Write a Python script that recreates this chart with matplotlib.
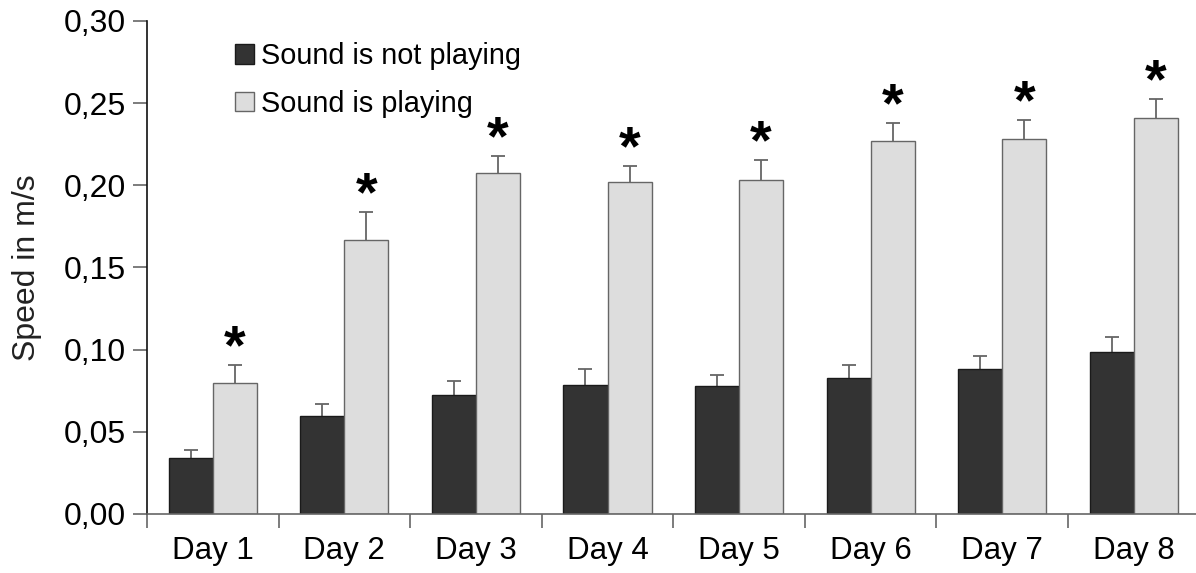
import numpy as np
import matplotlib
matplotlib.use('Agg')
import matplotlib.pyplot as plt
from matplotlib.patches import Patch

plt.rcParams['font.family'] = ['Liberation Sans', 'DejaVu Sans']

days = ['Day 1', 'Day 2', 'Day 3', 'Day 4', 'Day 5', 'Day 6', 'Day 7', 'Day 8']
not_playing = [0.0341, 0.0598, 0.0724, 0.0785, 0.0779, 0.0828, 0.0882, 0.0986]
not_playing_err = [0.0050, 0.0073, 0.0085, 0.0097, 0.0067, 0.0080, 0.0080, 0.0090]
playing = [0.0795, 0.1667, 0.2075, 0.2020, 0.2030, 0.2270, 0.2280, 0.2408]
playing_err = [0.0110, 0.0170, 0.0104, 0.0098, 0.0125, 0.0110, 0.0120, 0.0116]
y_ticks = [0.00, 0.05, 0.10, 0.15, 0.20, 0.25, 0.30]
y_tick_labels = ['0,00', '0,05', '0,10', '0,15', '0,20', '0,25', '0,30']

fig = plt.figure(figsize=(11.96, 5.73), dpi=100)
ax = fig.add_axes([0.1229, 0.1030, 0.8801, 0.8604])

x = np.arange(len(days)) + 0.5
w = 0.335

# Fehlerbalken hinter den Balken, so bleibt nur der obere Teil sichtbar
ax.errorbar(x - w / 2, not_playing, yerr=not_playing_err, fmt='none', ecolor='#666666',
            elinewidth=1.3, capsize=5, capthick=1.3, zorder=1)
ax.errorbar(x + w / 2, playing, yerr=playing_err, fmt='none', ecolor='#666666',
            elinewidth=1.3, capsize=5, capthick=1.3, zorder=1)
ax.bar(x - w / 2, not_playing, w, color='#333333', edgecolor='#1a1a1a', linewidth=1, zorder=2)
ax.bar(x + w / 2, playing, w, color='#dddddd', edgecolor='#666666', linewidth=1, zorder=2)

for i in range(len(days)):
    ax.text(x[i] + w / 2, playing[i] + playing_err[i] + 0.001, '*', ha='center', va='baseline',
            fontsize=40, fontweight='bold')

ax.set_xlim(0, len(days))
ax.set_ylim(0, 0.30)
ax.set_xticks(np.arange(len(days) + 1))
ax.set_xticklabels([])
ax.set_xticks(x, minor=True)
ax.set_xticklabels(days, minor=True, fontsize=22.5)
ax.tick_params(axis='x', which='major', direction='out', length=10, color='#666666', width=1.2)
ax.tick_params(axis='x', which='minor', length=0, pad=16)

ax.set_yticks(y_ticks)
ax.set_yticklabels(y_tick_labels, fontsize=23)
ax.tick_params(axis='y', direction='out', length=10, color='#666666', width=1.2, pad=5)
ax.set_ylabel('Speed in m/s', fontsize=23, color='#222222', labelpad=16)

ax.spines['top'].set_visible(False)
ax.spines['right'].set_visible(False)
ax.spines['left'].set_color('#111111')
ax.spines['bottom'].set_color('#666666')
ax.spines['left'].set_linewidth(1.2)
ax.spines['bottom'].set_linewidth(1.2)

handles = [Patch(facecolor='#333333', edgecolor='#1a1a1a', label='Sound is not playing'),
           Patch(facecolor='#dddddd', edgecolor='#666666', label='Sound is playing')]
ax.legend(handles=handles, loc='upper left', bbox_to_anchor=(0.059, 1.01), frameon=False,
          fontsize=20.8, handlelength=0.65, handleheight=0.65, handletextpad=0.25, labelspacing=0.68)

fig.savefig('out.png', dpi=100)
